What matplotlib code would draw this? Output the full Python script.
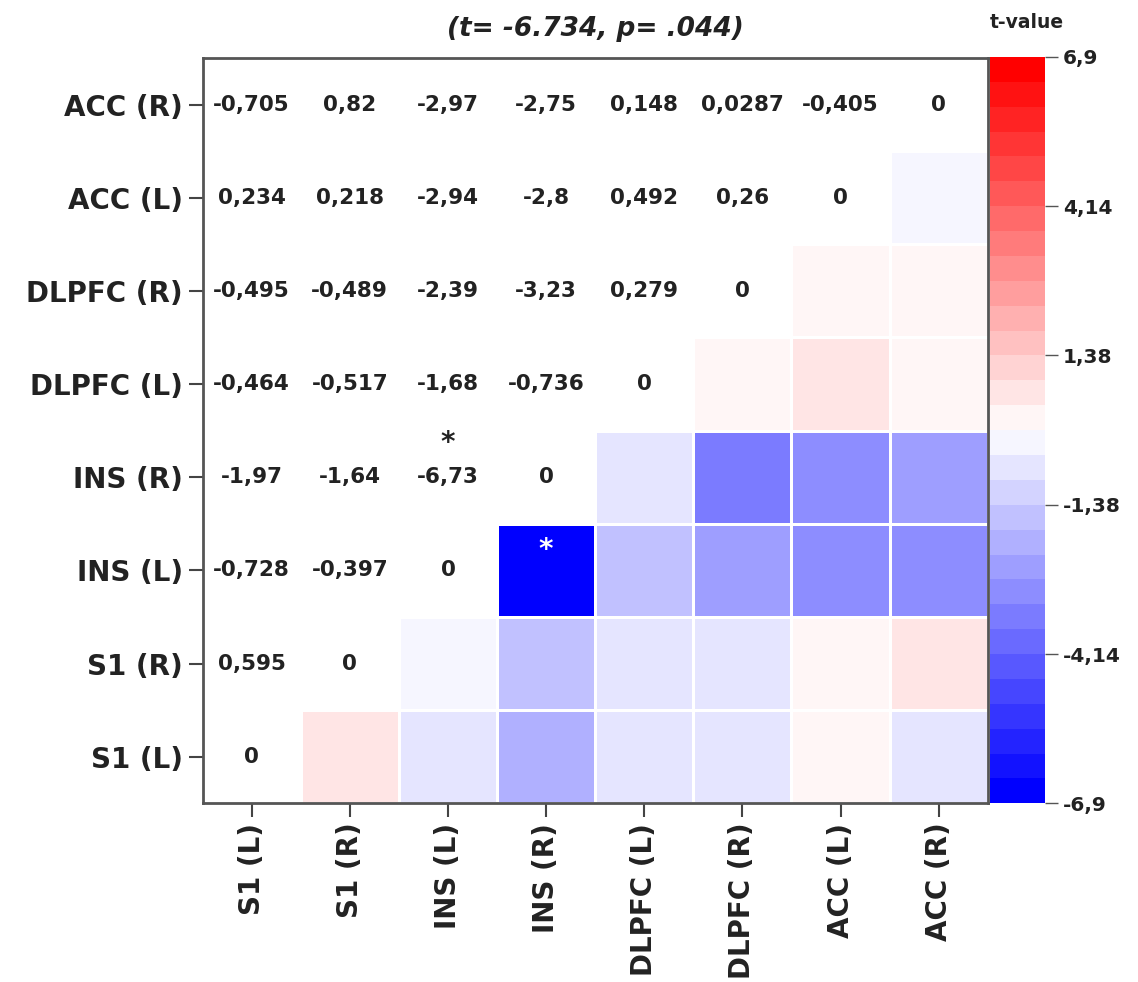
import numpy as np
import matplotlib
matplotlib.use("Agg")
import matplotlib.pyplot as plt

plt.rcParams['font.family'] = ['DejaVu Sans']

labels = ["S1 (L)", "S1 (R)", "INS (L)", "INS (R)", "DLPFC (L)", "DLPFC (R)", "ACC (L)", "ACC (R)"]

# lower-triangle rows (row i has values for columns 0..i)
row_s1_l = [0]
row_s1_r = [0.595, 0]
row_ins_l = [-0.728, -0.397, 0]
row_ins_r = [-1.97, -1.64, -6.73, 0]
row_dlpfc_l = [-0.464, -0.517, -1.68, -0.736, 0]
row_dlpfc_r = [-0.495, -0.489, -2.39, -3.23, 0.279, 0]
row_acc_l = [0.234, 0.218, -2.94, -2.8, 0.492, 0.26, 0]
row_acc_r = [-0.705, 0.82, -2.97, -2.75, 0.148, 0.0287, -0.405, 0]
rows = [row_s1_l, row_s1_r, row_ins_l, row_ins_r, row_dlpfc_l, row_dlpfc_r, row_acc_l, row_acc_r]

sig_pairs = [(3, 2)]  # (row, col) significant
vlim = 6.9
cbar_ticks = [6.9, 4.14, 1.38, -1.38, -4.14, -6.9]
title = "(t= -6.734, p= .044)"

n = len(labels)
full = np.zeros((n, n))
for i, r in enumerate(rows):
    for j, v in enumerate(r):
        full[i, j] = v
        full[j, i] = v

color_mat = np.full((n, n), np.nan)
for i in range(n):
    for j in range(n):
        if j > i:
            color_mat[i, j] = full[i, j]

fig = plt.figure(figsize=(11.38, 9.82), dpi=100)
ax = fig.add_axes([0.178, 0.182, 0.690, 0.759])
cax = fig.add_axes([0.870, 0.182, 0.048, 0.760])

cmap = plt.get_cmap('bwr', 30)
masked = np.ma.masked_invalid(color_mat)
mesh = ax.pcolormesh(np.arange(n + 1) - 0.5, np.arange(n + 1) - 0.5, masked,
                     cmap=cmap, vmin=-vlim, vmax=vlim, edgecolors='white', linewidth=2)
ax.set_xlim(-0.5, n - 0.5)
ax.set_ylim(-0.5, n - 0.5)

fmt = lambda v: ('{:.3g}'.format(v)).replace('.', ',')
for i, r in enumerate(rows):
    for j, v in enumerate(r):
        ax.text(j, i, fmt(v), ha='center', va='center', fontsize=15.5,
                fontweight='bold', color='#222222')

for (i, j) in sig_pairs:
    ax.text(j, i + 0.37, '*', ha='center', va='center', fontsize=20,
            fontweight='bold', color='#222222')
    ax.text(i, j + 0.22, '*', ha='center', va='center', fontsize=20,
            fontweight='bold', color='white')

ax.set_xticks(range(n))
ax.set_yticks(range(n))
ax.set_xticklabels(labels, rotation=90, fontsize=20, fontweight='bold', color='#222222')
ax.set_yticklabels(labels, fontsize=20, fontweight='bold', color='#222222')
ax.tick_params(axis='both', length=10, width=1.5, color='#444444', pad=4, direction='out')
for s in ax.spines.values():
    s.set_linewidth(2)
    s.set_color('#555555')

ax.set_title(title, fontsize=19, fontweight='bold', style='italic', pad=16, color='#222222')

cb = fig.colorbar(mesh, cax=cax)
cb.set_ticks(cbar_ticks)
cb.set_ticklabels([('{:g}'.format(t)).replace('.', ',') for t in cbar_ticks])
cb.outline.set_visible(False)
cax.tick_params(length=9, width=1, color='#555555', labelsize=14.5, pad=4)
for lab in cax.get_yticklabels():
    lab.set_fontweight('bold')
    lab.set_color('#222222')
fig.text(0.902, 0.977, 't-value', ha='center', va='center', fontsize=13.5,
         fontweight='bold', color='#222222')

fig.savefig('out.png', dpi=100, facecolor='white')
